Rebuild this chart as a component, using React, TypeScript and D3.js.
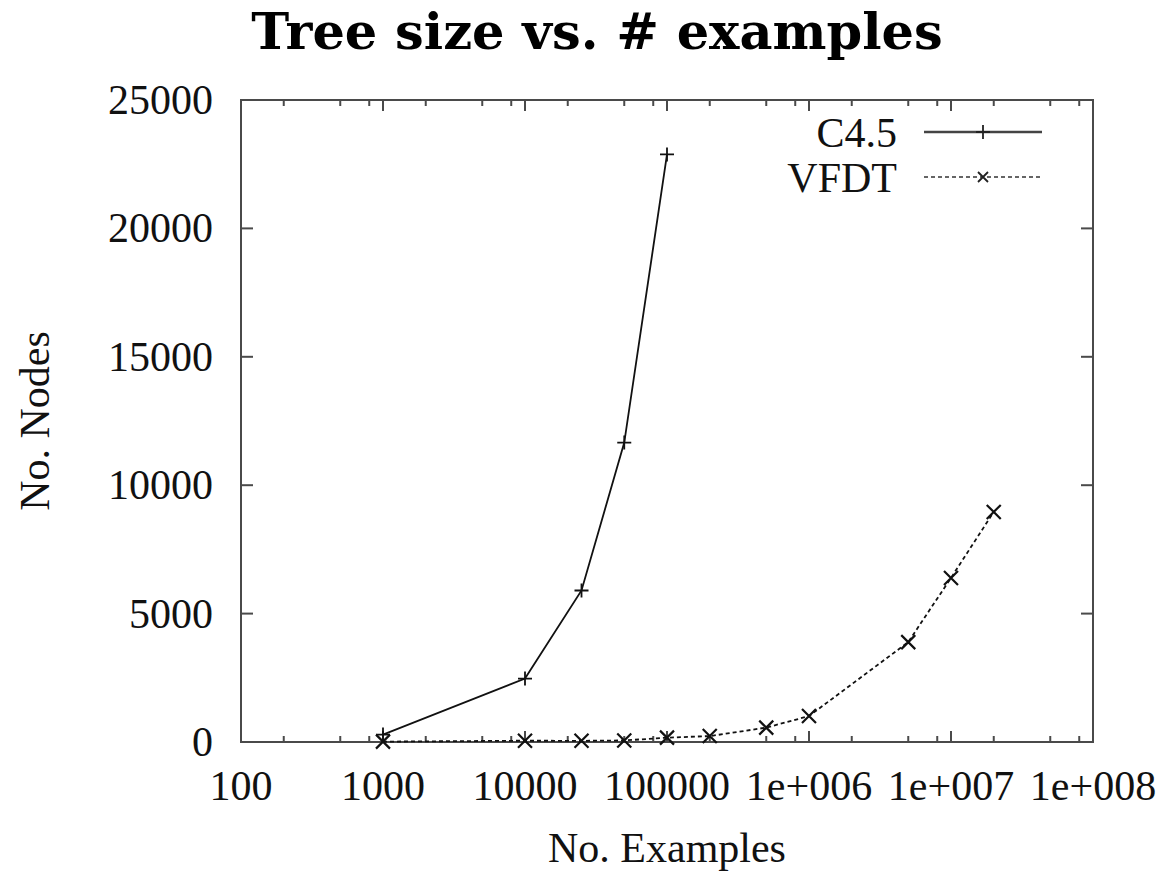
import React from "react";
import * as d3 from "d3";

// values
const c45Examples = [1000, 10000, 25000, 50000, 100000];
const c45Nodes = [290, 2470, 5900, 11660, 22880];

const vfdtExamples = [1000, 10000, 25000, 50000, 100000, 200000, 500000, 1000000, 5000000, 10000000, 20000000];
const vfdtNodes = [15, 50, 45, 60, 170, 230, 560, 1010, 3890, 6390, 8960];

const xTickValues = [100, 1000, 10000, 100000, 1e6, 1e7, 1e8];
const xTickLabels = ["100", "1000", "10000", "100000", "1e+006", "1e+007", "1e+008"];
const yTickValues = [0, 5000, 10000, 15000, 20000, 25000];
const minorSteps = [2, 5, 8];

const W = 1163;
const H = 877;
const margin = { top: 100, right: 70, bottom: 135, left: 241 };
const font = "'Liberation Serif', 'Times New Roman', serif";
const axisColor = "#4a4a4a";

export default function App() {
  const x = d3.scaleLog().domain([100, 1e8]).range([margin.left, W - margin.right]);
  const y = d3.scaleLinear().domain([0, 25000]).range([H - margin.bottom, margin.top]);
  const [x0, x1] = x.range();
  const [yb, yt] = y.range();

  const minors: number[] = [];
  xTickValues.slice(0, -1).forEach((d) => minorSteps.forEach((m) => minors.push(d * m)));

  const line = d3
    .line<[number, number]>()
    .x((d) => x(d[0]))
    .y((d) => y(d[1]));

  const c45 = c45Examples.map((e, i) => [e, c45Nodes[i]] as [number, number]);
  const vfdt = vfdtExamples.map((e, i) => [e, vfdtNodes[i]] as [number, number]);

  const plus = (cx: number, cy: number, s: number) => `M${cx - s},${cy}H${cx + s}M${cx},${cy - s}V${cy + s}`;
  const cross = (cx: number, cy: number, s: number) =>
    `M${cx - s},${cy - s}L${cx + s},${cy + s}M${cx - s},${cy + s}L${cx + s},${cy - s}`;

  const legX0 = 924;
  const legX1 = 1042;
  const legY = [132, 177];

  return (
    <svg width={W} height={H} style={{ position: "absolute", left: 0, top: 0, background: "#fff" }}>
      <text x={(x0 + x1) / 2 - 70} y={49} textAnchor="middle" fontFamily="'DejaVu Serif', serif" fontWeight="bold" fontSize={51}>
        Tree size vs. # examples
      </text>

      {/* ticks */}
      <g stroke={axisColor} strokeWidth={2}>
        {xTickValues.map((d) => (
          <g key={"xt" + d}>
            <line x1={x(d)} x2={x(d)} y1={yb} y2={yb - 11} />
            <line x1={x(d)} x2={x(d)} y1={yt} y2={yt + 11} />
          </g>
        ))}
        {minors.map((d) => (
          <g key={"xm" + d}>
            <line x1={x(d)} x2={x(d)} y1={yb} y2={yb - 6} />
            <line x1={x(d)} x2={x(d)} y1={yt} y2={yt + 6} />
          </g>
        ))}
        {yTickValues.map((d) => (
          <g key={"yt" + d}>
            <line x1={x0} x2={x0 + 12} y1={y(d)} y2={y(d)} />
            <line x1={x1} x2={x1 - 12} y1={y(d)} y2={y(d)} />
          </g>
        ))}
        <rect x={x0} y={yt} width={x1 - x0} height={yb - yt} fill="none" />
      </g>

      <g fontFamily={font} fontSize={42} fill="#111">
        {yTickValues.map((d) => (
          <text key={"yl" + d} x={x0 - 28} y={y(d) + 14} textAnchor="end">
            {d}
          </text>
        ))}
        {xTickValues.map((d, i) => (
          <text key={"xl" + d} x={x(d)} y={800} textAnchor="middle">
            {xTickLabels[i]}
          </text>
        ))}
        <text x={(x0 + x1) / 2} y={862} textAnchor="middle">
          No. Examples
        </text>
        <text transform={`translate(49,${(yt + yb) / 2}) rotate(-90)`} textAnchor="middle">
          No. Nodes
        </text>
        <text x={897} y={legY[0] + 15} textAnchor="end">
          C4.5
        </text>
        <text x={897} y={legY[1] + 15} textAnchor="end">
          VFDT
        </text>
      </g>

      {/* C4.5 */}
      <path d={line(c45) || ""} fill="none" stroke="#111" strokeWidth={1.8} />
      {c45.map((d) => (
        <path key={"cp" + d[0]} d={plus(x(d[0]), y(d[1]), 7)} stroke="#111" strokeWidth={1.8} />
      ))}
      <line x1={legX0} x2={legX1} y1={legY[0]} y2={legY[0]} stroke="#444" strokeWidth={2.5} />
      <path d={plus((legX0 + legX1) / 2, legY[0], 7)} stroke="#222" strokeWidth={1.8} />

      {/* VFDT */}
      <path d={line(vfdt) || ""} fill="none" stroke="#111" strokeWidth={1.8} strokeDasharray="4,3" />
      {vfdt.map((d) => (
        <path key={"vp" + d[0]} d={cross(x(d[0]), y(d[1]), 7)} stroke="#111" strokeWidth={2.2} />
      ))}
      <line x1={legX0} x2={legX1} y1={legY[1]} y2={legY[1]} stroke="#333" strokeWidth={1.6} strokeDasharray="4,3" />
      <path d={cross((legX0 + legX1) / 2, legY[1], 5)} stroke="#222" strokeWidth={1.8} />
    </svg>
  );
}
